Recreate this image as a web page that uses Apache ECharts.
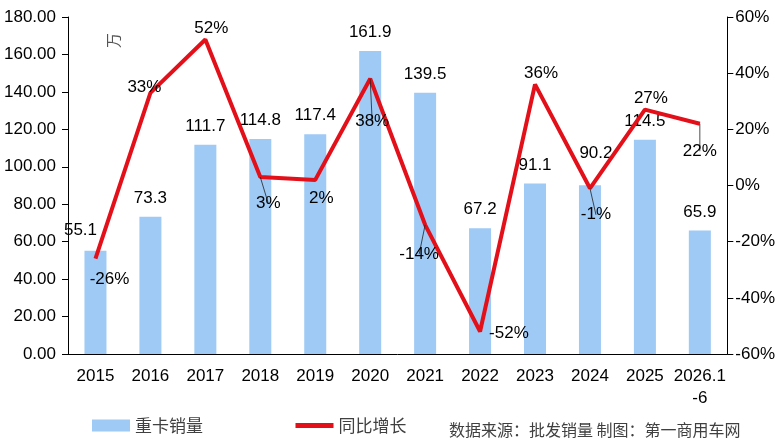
<!DOCTYPE html>
<html lang="zh-hans">
<head>
    <meta charset="UTF-8">
    <title>重卡销量</title>
    <script src="https://cdn.jsdelivr.net/npm/echarts@6/dist/echarts.min.js"></script>
</head>
<body style="margin:0;">
<div id="main" style="width: 778px;height:445px;"></div>
<script>
    var years = ['2015', '2016', '2017', '2018', '2019', '2020', '2021', '2022', '2023', '2024', '2025', '2026.1\n-6'];
    var sales = [55.1, 73.3, 111.7, 114.8, 117.4, 161.9, 139.5, 67.2, 91.1, 90.2, 114.5, 65.9];
    var growth = [-26, 33, 52, 3, 2, 38, -14, -52, 36, -1, 27, 22];

    // where each growth label sits relative to its point
    var growthLabelPos = ['bottom', 'top', 'top', 'bottom', 'bottom', 'bottom', 'bottom', 'right', 'top', 'bottom', 'top', 'bottom'];
    var growthLabelOffset = [[14, 7], [-6, 8], [6, 2], [8, 13], [6, 5], [2, 29], [-6, 16], [4, 2], [6, 2], [6, 13], [6, 2], [0, 14]];
    var growthGuide = [false, false, false, true, false, true, true, false, false, true, false, true];
    var salesLabelDist = [12, 10, 10, 10, 10, 10, 10, 10, 10, 23, 10, 10];
    var salesLabelDx = [-15, 0, 0, 0, 0, 0, 0, 0, 0, 6, 0, 0];

    var font = 'Liberation Sans, Arial, sans-serif';
    var cjk = 'Noto Sans CJK SC, sans-serif';

    var lineData = [];
    for (var i = 0; i < growth.length; i++) {
        lineData.push({
            value: growth[i],
            label: { position: growthLabelPos[i], offset: growthLabelOffset[i] },
            labelLine: { show: growthGuide[i] }
        });
    }
    var barData = [];
    for (var j = 0; j < sales.length; j++) {
        barData.push({
            value: sales[j],
            label: { distance: salesLabelDist[j], offset: [salesLabelDx[j], 0] },
            labelLine: { show: j === 0 }
        });
    }

    var myChart = echarts.init(document.getElementById('main'));
    var option = {
        animation: false,
        grid: { left: 68, right: 50, top: 17, bottom: 91 },
        legend: {
            left: 87,
            bottom: 6,
            itemWidth: 38,
            itemHeight: 12,
            itemGap: 90,
            textStyle: { fontFamily: cjk, fontSize: 17, color: '#404040' },
            data: [
                { name: '重卡销量', icon: 'rect' },
                { name: '同比增长', itemStyle: { opacity: 0 }, lineStyle: { width: 5 } }
            ]
        },
        graphic: [
            {
                type: 'text',
                left: 449,
                bottom: 7,
                style: { text: '数据来源：批发销量 制图：第一商用车网', font: '16px ' + cjk, fill: '#404040' }
            },
            {
                type: 'text',
                x: 106,
                y: 48,
                rotation: Math.PI / 2,
                style: { text: '万', font: '15px ' + cjk, fill: '#555' }
            }
        ],
        xAxis: {
            type: 'category',
            data: years,
            axisLine: { lineStyle: { color: '#000', width: 1 } },
            axisTick: { inside: true, length: 6, lineStyle: { color: '#000' } },
            axisLabel: { color: '#000', fontSize: 17, fontFamily: font, margin: 11, lineHeight: 22, interval: 0 }
        },
        yAxis: [
            {
                type: 'value',
                min: 0,
                max: 180,
                interval: 20,
                splitLine: { show: false },
                axisLine: { show: true, lineStyle: { color: '#000' } },
                axisTick: { show: true, length: 6, lineStyle: { color: '#000' } },
                axisLabel: {
                    color: '#000', fontSize: 17, fontFamily: font, margin: 12,
                    formatter: function (v) { return v.toFixed(2); }
                }
            },
            {
                type: 'value',
                min: -60,
                max: 60,
                interval: 20,
                splitLine: { show: false },
                axisLine: { show: true, lineStyle: { color: '#000' } },
                axisTick: { show: true, length: 6, lineStyle: { color: '#000' } },
                axisLabel: { color: '#000', fontSize: 17, fontFamily: font, margin: 8, formatter: '{value}%' }
            }
        ],
        series: [
            {
                name: '重卡销量',
                type: 'bar',
                data: barData,
                barWidth: 22,
                itemStyle: { color: '#9ecaf5' },
                label: {
                    show: true,
                    position: 'top',
                    color: '#000',
                    fontSize: 17,
                    fontFamily: font
                },
                labelLine: { lineStyle: { color: '#222', width: 0.8 } }
            },
            {
                name: '同比增长',
                type: 'line',
                yAxisIndex: 1,
                data: lineData,
                symbol: 'circle',
                symbolSize: 0,
                showSymbol: true,
                lineStyle: { color: '#e3101a', width: 4 },
                itemStyle: { color: '#e3101a' },
                label: {
                    show: true,
                    color: '#000',
                    fontSize: 17,
                    fontFamily: font,
                    formatter: '{c}%'
                },
                labelLine: { lineStyle: { color: '#222', width: 0.8 } },
                z: 3
            }
        ]
    };
    myChart.setOption(option);
</script>
</body>
</html>
